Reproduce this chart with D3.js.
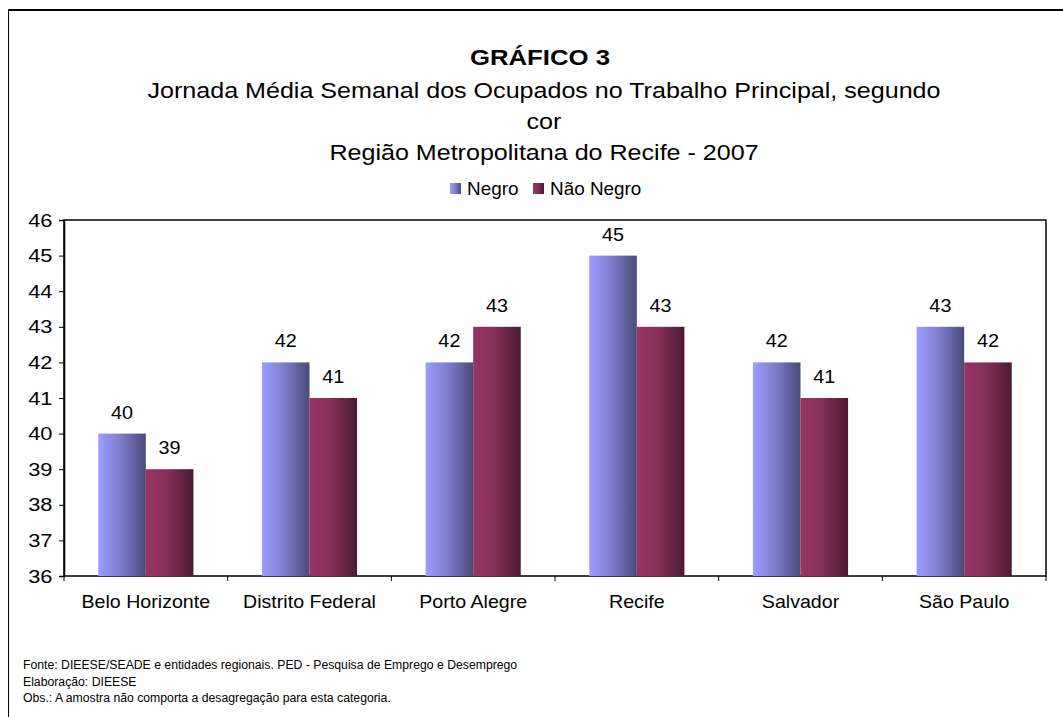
<html>
  <head>
    <meta charset="utf-8"/>
    <style>
      body {
        margin: 0;
        background: white;
        font-family: "Liberation Sans", Arial, sans-serif;
      }
      .axis text { fill: #000; font-family: "Liberation Sans", Arial, sans-serif; }
      .axis path, .axis line { stroke: #000; }
    </style>
    <script src="https://d3js.org/d3.v7.min.js"></script>
  </head>
  <body>
    <script>
    var width = 1063, height = 717;
    var categories = ["Belo Horizonte", "Distrito Federal", "Porto Alegre", "Recife", "Salvador", "São Paulo"];
    var seriesNames = ["Negro", "Não Negro"];
    var negro = [40, 42, 42, 45, 42, 43];
    var naoNegro = [39, 41, 43, 43, 41, 42];
    var yTicks = [36, 37, 38, 39, 40, 41, 42, 43, 44, 45, 46];

    var margin = {left: 64, right: 1046, top: 220, bottom: 576};

    var svg = d3.select("body").append("svg")
      .attr("width", width).attr("height", height);

    // the original text is a bit wider than Arial, so stretch it sideways
    function txt(x, y, s, size, sx, anchor, weight) {
      return svg.append("text")
        .attr("transform", "translate(" + x + "," + y + ") scale(" + sx + ",1)")
        .attr("text-anchor", anchor || "start")
        .style("font-size", size + "px")
        .style("font-weight", weight || "normal")
        .text(s);
    }

    // gradients
    var defs = svg.append("defs");
    var grads = [
      {id: "g0", stops: [["0%", "#9c9cff"], ["45%", "#7f7fd0"], ["100%", "#4a4a78"]]},
      {id: "g1", stops: [["0%", "#993366"], ["45%", "#84305a"], ["100%", "#4a1a30"]]}
    ];
    grads.forEach(function(g) {
      var lg = defs.append("linearGradient").attr("id", g.id)
        .attr("x1", "0%").attr("x2", "100%").attr("y1", "0%").attr("y2", "0%");
      g.stops.forEach(function(s) {
        lg.append("stop").attr("offset", s[0]).attr("stop-color", s[1]);
      });
    });

    // outer frame
    svg.append("line").attr("x1", 8).attr("x2", 1063).attr("y1", 10).attr("y2", 10)
      .attr("stroke", "#000").attr("stroke-width", 2);
    svg.append("line").attr("x1", 8.5).attr("x2", 8.5).attr("y1", 9).attr("y2", 717)
      .attr("stroke", "#000").attr("stroke-width", 1);

    // titles
    txt(540, 65, "GRÁFICO 3", 22, 1.17, "middle", "bold");
    var sub = ["Jornada Média Semanal dos Ocupados no Trabalho Principal, segundo", "cor", "Região Metropolitana do Recife - 2007"];
    sub.forEach(function(s, i) {
      txt(544, 98 + i * 31, s, 22, 1.14, "middle");
    });

    // legend
    var legendX = [450, 533];
    seriesNames.forEach(function(n, i) {
      svg.append("rect").attr("x", legendX[i]).attr("y", 183).attr("width", 11).attr("height", 11)
        .attr("fill", "url(#g" + i + ")");
      txt(legendX[i] + 17, 195, n, 18, 1.05);
    });

    var x = d3.scaleBand().domain(categories).range([margin.left, margin.right]);
    var xs = d3.scaleBand().domain([0, 1]).range([0, x.bandwidth()]).paddingOuter(0.72).paddingInner(0);
    var y = d3.scaleLinear().domain([36, 46]).range([margin.bottom, margin.top]);

    // plot frame
    svg.append("rect").attr("x", margin.left).attr("y", margin.top)
      .attr("width", margin.right - margin.left).attr("height", margin.bottom - margin.top)
      .attr("fill", "none").attr("stroke", "#000").attr("stroke-width", 1.5);

    var series = [negro, naoNegro];
    series.forEach(function(vals, si) {
      var g = svg.append("g");
      g.selectAll("rect").data(vals).enter().append("rect")
        .attr("x", (d, i) => x(categories[i]) + xs(si))
        .attr("width", xs.bandwidth())
        .attr("y", d => y(d))
        .attr("height", d => y(36) - y(d))
        .attr("fill", "url(#g" + si + ")");
      g.selectAll("text").data(vals).enter().append("text")
        .attr("transform", (d, i) => "translate(" + (x(categories[i]) + xs(si) + xs.bandwidth() / 2) + "," + (y(d) - 15) + ") scale(1.1,1)")
        .attr("text-anchor", "middle")
        .style("font-size", "18px")
        .text(d => d);
    });

    // axes
    var yAxis = svg.append("g").attr("class", "axis")
      .attr("transform", "translate(" + margin.left + ",0)")
      .call(d3.axisLeft(y).tickValues(yTicks).tickSize(5).tickPadding(5));
    yAxis.select(".domain").attr("stroke-width", 1.5);
    yAxis.selectAll("text").style("font-size", "19px").attr("transform", "scale(1.15,1)");

    var xAxis = svg.append("g").attr("class", "axis")
      .attr("transform", "translate(0," + margin.bottom + ")")
      .call(d3.axisBottom(x).tickSize(0).tickPadding(26));
    xAxis.select(".domain").remove();
    xAxis.selectAll("text").attr("dy", "0.35em").style("font-size", "18px")
      .attr("transform", "scale(1.09,1)");
    // fix text x after scaling (ticks are translated, text x = 0)
    // category separator ticks
    var seps = categories.map((c, i) => x(c)).concat([margin.right]);
    svg.append("g").selectAll("line").data(seps).enter().append("line")
      .attr("x1", d => d).attr("x2", d => d)
      .attr("y1", margin.bottom).attr("y2", margin.bottom + 5)
      .attr("stroke", "#000");

    // footer
    var notes = ["Fonte: DIEESE/SEADE  e entidades regionais. PED - Pesquisa de Emprego e Desemprego",
                 "Elaboração: DIEESE",
                 "Obs.: A amostra não comporta a desagregação para esta categoria."];
    notes.forEach(function(s, i) {
      txt(23, 669 + i * 16.5, s, 12, 1.02);
    });
    </script>
  </body>
</html>
